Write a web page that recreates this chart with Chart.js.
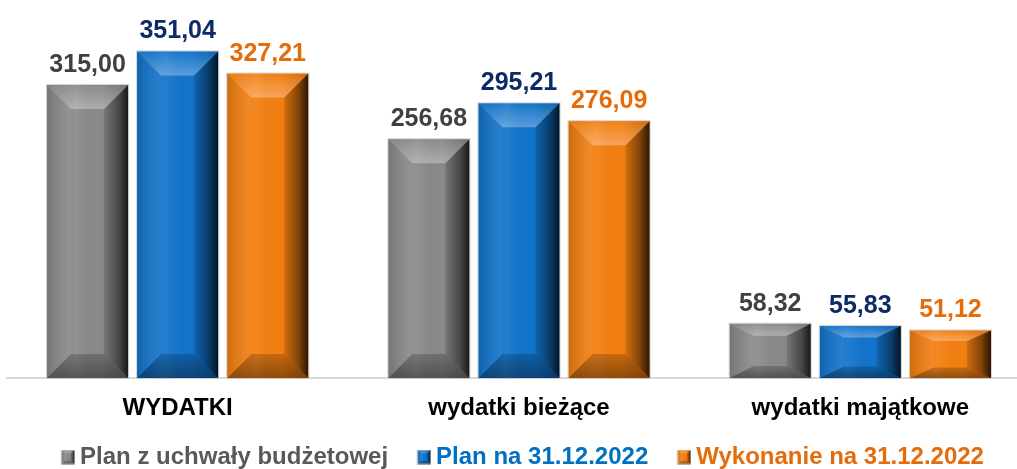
<!DOCTYPE html>
<html>
<head>
<meta charset="utf-8">
<script src="https://cdn.jsdelivr.net/npm/chart.js@4/dist/chart.umd.min.js"></script>
<style>
  html, body { margin: 0; padding: 0; background: #fff; overflow: hidden; }
  #wrap { width: 1040px; height: 469px; }
</style>
</head>
<body>
<div id="wrap"><canvas id="myChart" width="1040" height="469"></canvas></div>
<script>
// categories and values
const categories = ['WYDATKI', 'wydatki bieżące', 'wydatki majątkowe'];
const seriesNames = ['Plan z uchwały budżetowej', 'Plan na 31.12.2022', 'Wykonanie na 31.12.2022'];
const planUchwala = [315.00, 256.68, 58.32];
const planKoniec = [351.04, 295.21, 55.83];
const wykonanie = [327.21, 276.09, 51.12];

// colours: bar face, value label, legend text
const barColors = ['#8A8A8A', '#1274CC', '#F47F10'];
const valueColors = ['#404040', '#0D2A66', '#E46C0A'];
const legendColors = ['#595959', '#0070C0', '#E46C0A'];

const FONT = "'Liberation Sans', Arial, sans-serif";

// fill a polygon
const poly = (ctx, pts, fill) => {
  ctx.beginPath();
  ctx.moveTo(pts[0][0], pts[0][1]);
  for (let i = 1; i < pts.length; i++) ctx.lineTo(pts[i][0], pts[i][1]);
  ctx.closePath();
  ctx.fillStyle = fill;
  ctx.fill();
};

// beveled box like the Excel "angle" bevel
const drawBevel = (ctx, l, t, r, b, color) => {
  const w = r - l, h = b - t;
  if (w <= 0 || h <= 0) return;
  const bx = Math.min(24, w * 0.3);
  const by = Math.min(24, h * 0.22);
  ctx.save();
  ctx.fillStyle = color;
  ctx.fillRect(l, t, w, h);

  // face, lighter on the left, darker on the right
  let g = ctx.createLinearGradient(l, 0, r, 0);
  g.addColorStop(0, 'rgba(0,0,0,0.04)');
  g.addColorStop(0.35, 'rgba(255,255,255,0.07)');
  g.addColorStop(0.65, 'rgba(0,0,0,0.0)');
  g.addColorStop(1, 'rgba(0,0,0,0.18)');
  ctx.fillStyle = g;
  ctx.fillRect(l, t, w, h);

  // top bevel
  g = ctx.createLinearGradient(0, t, 0, t + by);
  g.addColorStop(0, 'rgba(255,255,255,0.02)');
  g.addColorStop(1, 'rgba(255,255,255,0.3)');
  poly(ctx, [[l, t], [r, t], [r - bx, t + by], [l + bx, t + by]], g);

  // bottom bevel
  g = ctx.createLinearGradient(0, b - by, 0, b);
  g.addColorStop(0, 'rgba(0,0,0,0.18)');
  g.addColorStop(1, 'rgba(0,0,0,0.4)');
  poly(ctx, [[l, b], [r, b], [r - bx, b - by], [l + bx, b - by]], g);

  // left bevel
  g = ctx.createLinearGradient(l, 0, l + bx, 0);
  g.addColorStop(0, 'rgba(0,0,0,0.12)');
  g.addColorStop(1, 'rgba(255,255,255,0.04)');
  poly(ctx, [[l, t], [l + bx, t + by], [l + bx, b - by], [l, b]], g);

  // right bevel
  g = ctx.createLinearGradient(r - bx, 0, r, 0);
  g.addColorStop(0, 'rgba(0,0,0,0.12)');
  g.addColorStop(0.6, 'rgba(0,0,0,0.4)');
  g.addColorStop(1, 'rgba(0,0,0,0.78)');
  poly(ctx, [[r, t], [r, b], [r - bx, b - by], [r - bx, t + by]], g);

  ctx.strokeStyle = 'rgba(200,200,200,0.8)';
  ctx.lineWidth = 1;
  ctx.strokeRect(l - 0.5, t - 0.5, w + 1, h + 1);
  ctx.restore();
};

// legend marker: the small beveled square sits on the right half of the image
const makeMarker = (color) => {
  const c = document.createElement('canvas');
  c.width = 28;
  c.height = 15;
  drawBevel(c.getContext('2d'), 14.5, 0.5, 27.5, 14.5, color);
  return c;
};
const markers = barColors.map(makeMarker);

const fmt = (v) => v.toFixed(2).replace('.', ',');

const bevelPlugin = {
  id: 'bevelBars',
  afterDatasetsDraw(chart) {
    const ctx = chart.ctx;
    chart.data.datasets.forEach((ds, di) => {
      const meta = chart.getDatasetMeta(di);
      meta.data.forEach((bar, i) => {
        const p = bar.getProps(['x', 'y', 'base', 'width'], true);
        drawBevel(ctx, p.x - p.width / 2, p.y, p.x + p.width / 2, p.base, barColors[di]);
        ctx.save();
        ctx.font = `bold 25px ${FONT}`;
        ctx.fillStyle = valueColors[di];
        ctx.textAlign = 'center';
        ctx.textBaseline = 'alphabetic';
        ctx.fillText(fmt(ds.data[i]), p.x, p.y - 13);
        ctx.restore();
      });
    });
  },
};

const ctx = document.getElementById('myChart').getContext('2d');
const myChart = new Chart(ctx, {
  type: 'bar',
  data: {
    labels: categories,
    datasets: [planUchwala, planKoniec, wykonanie].map((values, i) => ({
      label: seriesNames[i],
      data: values,
      backgroundColor: barColors[i],
      borderWidth: 0,
      categoryPercentage: 0.792,
      barPercentage: 0.9,
    })),
  },
  options: {
    responsive: false,
    animation: false,
    devicePixelRatio: 1,
    layout: { padding: { top: 4, left: 7, right: 9, bottom: 0 } },
    scales: {
      x: {
        grid: { display: false, drawTicks: false },
        border: { display: true, color: '#D9D9D9', width: 2 },
        ticks: {
          color: '#000',
          padding: 16,
          font: { family: FONT, size: 24, weight: 'bold' },
        },
        afterFit: (scale) => { scale.height = 45; },
      },
      y: {
        display: false,
        min: 0,
        max: 402,
      },
    },
    plugins: {
      tooltip: { enabled: false },
      legend: {
        position: 'bottom',
        maxHeight: 46,
        labels: {
          usePointStyle: true,
          pointStyleWidth: 14,
          padding: 22,
          font: { family: FONT, size: 24, weight: 'bold' },
          generateLabels: (chart) =>
            chart.data.datasets.map((ds, i) => ({
              text: ds.label,
              fillStyle: barColors[i],
              strokeStyle: barColors[i],
              lineWidth: 0,
              pointStyle: markers[i],
              fontColor: legendColors[i],
              hidden: false,
              datasetIndex: i,
            })),
        },
      },
    },
  },
  plugins: [bevelPlugin],
});
</script>
</body>
</html>
